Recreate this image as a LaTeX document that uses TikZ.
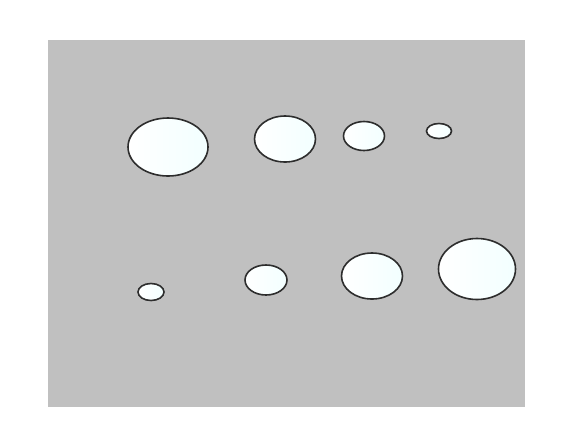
\documentclass[tikz,border=0pt]{standalone}
\usepackage{tikz}
\usetikzlibrary{shapes.geometric}
\definecolor{plate}{RGB}{192, 192, 192}
\definecolor{rim}{RGB}{45, 45, 45}

\begin{document}
\begin{tikzpicture}[x=1pt, y=-1pt,
    drop/.style={draw=rim, ellipse, line width=1.6pt, inner sep=0pt,
        left color=white, right color=cyan!5}]
                \useasboundingbox (0,0) rectangle (583,432);
                \fill[white] (0,0) rectangle (583,432);
                \fill[plate] (48,40) rectangle (525,407);
                % top row, large to small
                \node[drop, minimum width=80pt, minimum height=58pt] (top1) at (168,147) {};
                \node[drop, minimum width=61pt, minimum height=46pt] (top2) at (285,139) {};
                \node[drop, minimum width=41pt, minimum height=29pt] (top3) at (364,136) {};
                \node[drop, minimum width=25pt, minimum height=15pt] (top4) at (439,131) {};
                % bottom row, small to large
                \node[drop, minimum width=26pt, minimum height=17pt] (bot1) at (151,292) {};
                \node[drop, minimum width=42pt, minimum height=30pt] (bot2) at (266,280) {};
                \node[drop, minimum width=61pt, minimum height=46pt] (bot3) at (372,276) {};
                \node[drop, minimum width=77pt, minimum height=61pt] (bot4) at (477,269) {};
            \end{tikzpicture}
\end{document}
